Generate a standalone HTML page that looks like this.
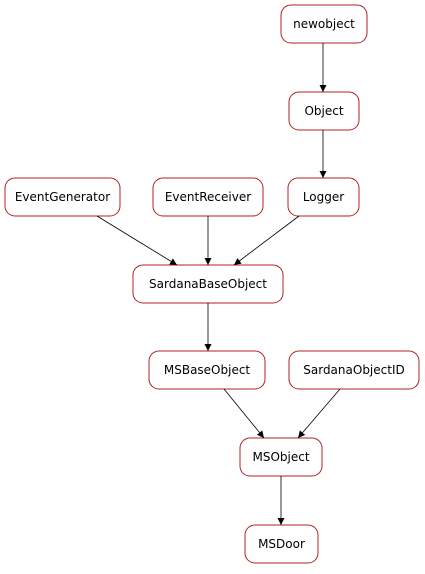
<!DOCTYPE html>
<html><head><style>body{margin:0;background:#fff}</style></head><body>
<svg width="425" height="569" xmlns="http://www.w3.org/2000/svg" font-family="DejaVu Sans, sans-serif" font-size="12">
<defs><marker id="a" markerWidth="8" markerHeight="8" refX="7" refY="3.5" orient="auto" markerUnits="userSpaceOnUse"><path d="M0,0 L7,3.5 L0,7 z" fill="#000"/></marker></defs>
<g fill="#fff" stroke="#b22222" stroke-width="1">
<rect x="281" y="5" width="86" height="38" rx="10"/>
<rect x="289" y="92" width="70" height="38" rx="10"/>
<rect x="5" y="178" width="115" height="38" rx="10"/>
<rect x="153" y="178" width="110" height="38" rx="10"/>
<rect x="288" y="178" width="71" height="38" rx="10"/>
<rect x="133" y="265" width="150" height="38" rx="10"/>
<rect x="149" y="351" width="116" height="38" rx="10"/>
<rect x="289" y="351" width="130" height="38" rx="10"/>
<rect x="240" y="438" width="82" height="38" rx="10"/>
<rect x="245" y="525" width="73" height="38" rx="10"/>
</g>
<g stroke="#000" stroke-width="0.8" marker-end="url(#a)">
<line x1="323" y1="43" x2="323" y2="92"/>
<line x1="323" y1="130" x2="323" y2="178"/>
<line x1="97" y1="216" x2="177" y2="265"/>
<line x1="208" y1="216" x2="208" y2="265"/>
<line x1="299" y1="216" x2="234" y2="265"/>
<line x1="208" y1="303" x2="208" y2="351"/>
<line x1="224" y1="389" x2="264" y2="438"/>
<line x1="340" y1="389" x2="298" y2="438"/>
<line x1="281" y1="476" x2="281" y2="525"/>
</g>
<g text-anchor="middle" fill="#000">
<text x="324" y="28">newobject</text>
<text x="324" y="115">Object</text>
<text x="62.5" y="201">EventGenerator</text>
<text x="208" y="201">EventReceiver</text>
<text x="323.5" y="201">Logger</text>
<text x="208" y="288">SardanaBaseObject</text>
<text x="207" y="374">MSBaseObject</text>
<text x="354" y="374">SardanaObjectID</text>
<text x="281" y="461">MSObject</text>
<text x="281.5" y="548">MSDoor</text>
</g>
</svg>
</body></html>
